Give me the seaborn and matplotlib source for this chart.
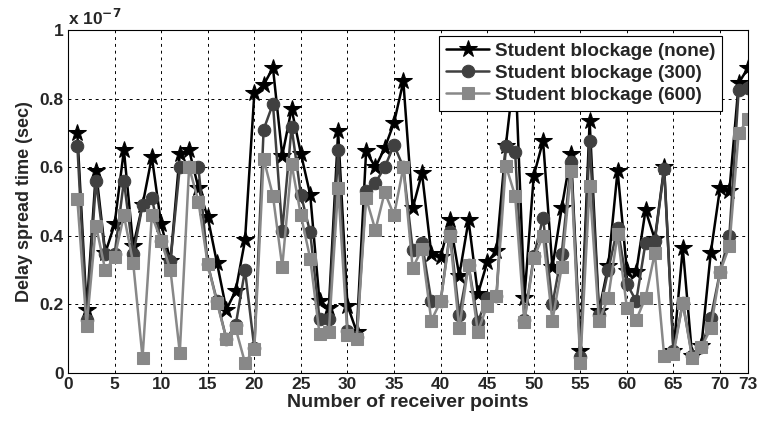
import numpy as np
import pandas as pd
import matplotlib
matplotlib.use("Agg")
import matplotlib.pyplot as plt
import seaborn as sns

# receiver points 1..73, delay spread in units of 1e-7 s
points = list(range(1, 74))

none_vals = [0.70, 0.185, 0.59, 0.35, 0.434, 0.65, 0.37, 0.49, 0.63, 0.434,
             0.327, 0.64, 0.65, 0.54, 0.454, 0.32, 0.185, 0.24, 0.387, 0.815,
             0.84, 0.89, 0.634, 0.77, 0.64, 0.52, 0.21, 0.19, 0.705, 0.197,
             0.12, 0.646, 0.60, 0.656, 0.73, 0.85, 0.48, 0.583, 0.348, 0.338,
             0.445, 0.284, 0.445, 0.23, 0.323, 0.357, 0.663, 0.90, 0.22, 0.575,
             0.677, 0.308, 0.482, 0.638, 0.065, 0.735, 0.18, 0.313, 0.59, 0.298,
             0.295, 0.475, 0.39, 0.60, 0.065, 0.365, 0.05, 0.08, 0.35, 0.54,
             0.53, 0.845, 0.89]

b300_vals = [0.663, 0.156, 0.56, 0.346, 0.346, 0.56, 0.346, 0.49, 0.51, 0.385,
             0.327, 0.60, 0.60, 0.60, 0.317, 0.21, 0.10, 0.14, 0.30, 0.073,
             0.71, 0.785, 0.415, 0.717, 0.52, 0.41, 0.158, 0.158, 0.65, 0.124,
             0.105, 0.53, 0.555, 0.60, 0.665, 0.60, 0.36, 0.38, 0.21, 0.209,
             0.41, 0.17, 0.315, 0.149, 0.22, 0.226, 0.663, 0.644, 0.155, 0.34,
             0.453, 0.20, 0.347, 0.614, 0.046, 0.677, 0.17, 0.30, 0.424, 0.26,
             0.21, 0.38, 0.385, 0.595, 0.065, 0.205, 0.05, 0.075, 0.16, 0.295,
             0.40, 0.825, 0.83]

b600_vals = [0.507, 0.137, 0.43, 0.30, 0.337, 0.46, 0.32, 0.045, 0.46, 0.385,
             0.30, 0.06, 0.60, 0.50, 0.317, 0.205, 0.10, 0.13, 0.03, 0.07,
             0.625, 0.517, 0.31, 0.61, 0.46, 0.334, 0.114, 0.12, 0.54, 0.11,
             0.10, 0.51, 0.417, 0.527, 0.46, 0.60, 0.306, 0.362, 0.153, 0.209,
             0.40, 0.13, 0.315, 0.12, 0.197, 0.226, 0.605, 0.517, 0.15, 0.335,
             0.40, 0.152, 0.308, 0.59, 0.03, 0.546, 0.152, 0.22, 0.405, 0.19,
             0.155, 0.22, 0.35, 0.05, 0.055, 0.205, 0.045, 0.075, 0.13, 0.295,
             0.37, 0.70, 0.74]

series_names = ["Student blockage (none)", "Student blockage (300)", "Student blockage (600)"]
xtick_vals = [0, 5, 10, 15, 20, 25, 30, 35, 40, 45, 50, 55, 60, 65, 70, 73]
ytick_vals = [0, 0.2, 0.4, 0.6, 0.8, 1]
ytick_labels = ["0", "0.2", "0.4", "0.6", "0.8", "1"]

sns.set_style("white")
plt.rcParams["font.family"] = ["Liberation Sans", "DejaVu Sans"]
plt.rcParams["font.weight"] = "bold"

fig = plt.figure(figsize=(7.6, 4.23), dpi=100)
ax = fig.add_axes([0.0895, 0.118, 0.8947, 0.811])

styles = [
    (none_vals, "#000000", "*", 13),
    (b300_vals, "#404040", "o", 9),
    (b600_vals, "#888888", "s", 8),
]
for name, (vals, col, mk, ms) in zip(series_names, styles):
    df = pd.DataFrame({"x": points, "y": vals})
    sns.lineplot(data=df, x="x", y="y", ax=ax, color=col, marker=mk,
                 markersize=ms, markeredgecolor=col, linewidth=1.8,
                 label=name, sort=False)

ax.set_xlim(0, 73)
ax.set_ylim(0, 1)
ax.set_xticks(xtick_vals)
ax.set_yticks(ytick_vals)
ax.set_yticklabels(ytick_labels)
ax.tick_params(labelsize=12.5, direction="in", length=4, pad=3)
for lab in ax.get_xticklabels() + ax.get_yticklabels():
    lab.set_fontweight("bold")
ax.grid(True, color="black", linestyle=(0, (3, 4)), linewidth=0.7)
for s in ax.spines.values():
    s.set_color("black")
    s.set_linewidth(0.8)

ax.set_xlabel("Number of receiver points", fontsize=14, fontweight="bold", labelpad=1)
ax.set_ylabel("Delay spread time (sec)", fontsize=13, fontweight="bold", labelpad=5)
ax.text(0.0, 1.005, "x 10$^{-7}$", transform=ax.transAxes, fontsize=12.5,
        fontweight="bold", ha="left", va="bottom")

leg = ax.legend(loc="upper right", bbox_to_anchor=(0.962, 0.982), fontsize=13.6,
                frameon=True, fancybox=False, borderpad=0.35, labelspacing=0.25,
                handlelength=2.3, handletextpad=0.3, borderaxespad=0)
leg.get_frame().set_edgecolor("black")
leg.get_frame().set_linewidth(0.8)
leg.get_frame().set_alpha(1)
for t in leg.get_texts():
    t.set_fontweight("bold")

fig.savefig("out.png", dpi=100)
